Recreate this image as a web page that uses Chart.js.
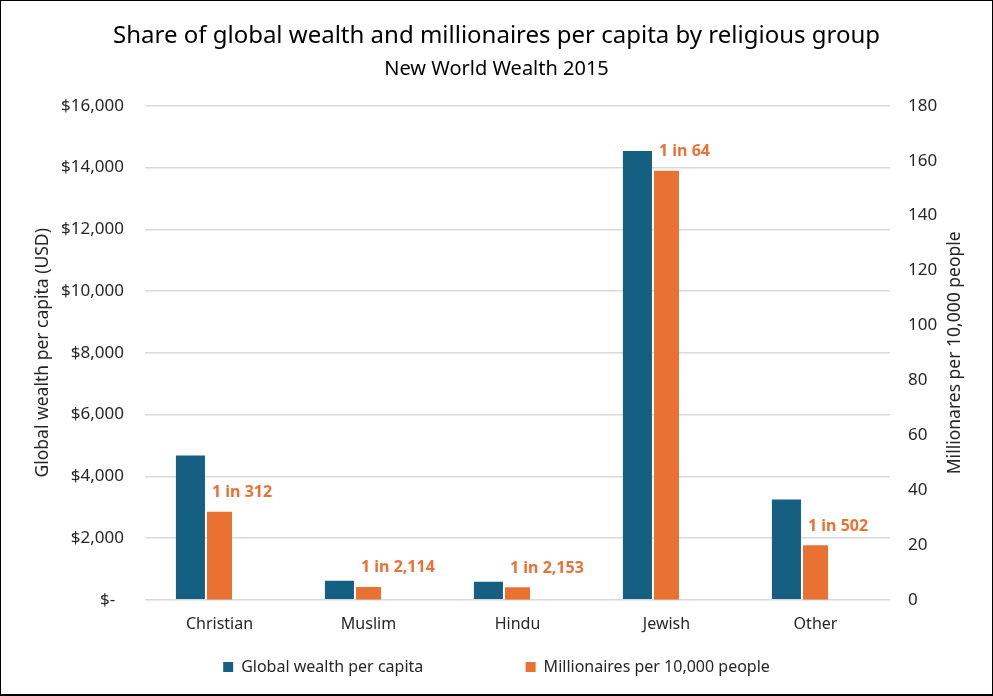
<!DOCTYPE html>
<html lang="en">
<head>
    <meta charset="UTF-8">
    <title>Wealth by religious group</title>
    <script src="https://cdn.jsdelivr.net/npm/chart.js"></script>
    <style>
        html, body { margin: 0; padding: 0; background: #fff; }
        #wrap {
            width: 993px; height: 696px; box-sizing: border-box;
            border: 1px solid #000; border-bottom-width: 2px;
        }
        #chart { display: block; }
    </style>
</head>
<body>
    <div id="wrap"><canvas id="chart" width="991" height="693"></canvas></div>

    <script>
        // Data
        const groups = ['Christian', 'Muslim', 'Hindu', 'Jewish', 'Other'];
        const wealthPerCapita = [4670, 615, 585, 14540, 3245];
        const millionairesPer10k = [32.1, 4.7, 4.6, 156.3, 19.9];
        const ratioLabels = ['1 in 312', '1 in 2,114', '1 in 2,153', '1 in 64', '1 in 502'];

        const FONT = "'Noto Sans', sans-serif";
        const BLUE = '#156082';
        const ORANGE = '#E97132';
        const TEXT = '#262626';

        // "1 in N" labels sit above the orange bars, a bit to the right
        const ratioLabelPlugin = {
            id: 'ratioLabels',
            afterDatasetsDraw(chart) {
                const ctx = chart.ctx;
                const meta = chart.getDatasetMeta(1);
                ctx.save();
                ctx.font = 'bold 16px ' + FONT;
                ctx.fillStyle = ORANGE;
                ctx.textAlign = 'left';
                ctx.textBaseline = 'middle';
                meta.data.forEach((bar, i) => {
                    ctx.fillText(ratioLabels[i], bar.x - bar.width / 2 + 5, bar.y - 19);
                });
                ctx.restore();
            }
        };

        // right axis title reads bottom-to-top like the left one
        const rightTitlePlugin = {
            id: 'rightTitle',
            afterDraw(chart) {
                const ctx = chart.ctx;
                const area = chart.chartArea;
                ctx.save();
                ctx.translate(954, (area.top + area.bottom) / 2);
                ctx.rotate(-Math.PI / 2);
                ctx.font = '17.5px ' + FONT;
                ctx.fillStyle = TEXT;
                ctx.textAlign = 'center';
                ctx.textBaseline = 'middle';
                ctx.fillText('Millionares per 10,000 people', 0, 0);
                ctx.restore();
            }
        };

        const ctx = document.getElementById('chart').getContext('2d');
        new Chart(ctx, {
            type: 'bar',
            data: {
                labels: groups,
                datasets: [{
                    label: 'Global wealth per capita',
                    data: wealthPerCapita,
                    backgroundColor: BLUE,
                    yAxisID: 'y',
                    barPercentage: 1.0,
                    categoryPercentage: 0.585
                }, {
                    label: 'Millionaires per 10,000 people',
                    data: millionairesPer10k,
                    backgroundColor: ORANGE,
                    yAxisID: 'y1',
                    barPercentage: 0.86,
                    categoryPercentage: 0.585
                }, {
                    // empty slot so the orange bar sits on the category centre
                    label: '',
                    data: [],
                    yAxisID: 'y1',
                    barPercentage: 1.0,
                    categoryPercentage: 0.585
                }]
            },
            options: {
                responsive: false,
                animation: false,
                events: [],
                layout: { padding: { left: 0, right: 0, top: 0, bottom: 9 } },
                plugins: {
                    title: {
                        display: true,
                        text: 'Share of global wealth and millionaires per capita by religious group',
                        color: '#000',
                        font: { family: FONT, size: 24, weight: 'normal' },
                        padding: { top: 21, bottom: 0 }
                    },
                    subtitle: {
                        display: true,
                        text: 'New World Wealth 2015',
                        color: '#000',
                        font: { family: FONT, size: 20, weight: 'normal' },
                        padding: { top: 6, bottom: 25 }
                    },
                    legend: {
                        position: 'bottom',
                        labels: {
                            boxWidth: 10,
                            boxHeight: 10,
                            padding: 15,
                            color: TEXT,
                            font: { family: FONT, size: 16 },
                            filter: item => item.text !== '',
                            generateLabels(chart) {
                                const items = Chart.defaults.plugins.legend.labels.generateLabels(chart);
                                items.forEach(it => {
                                    it.lineWidth = 0;
                                    if (it.datasetIndex === 0) it.text = it.text + ' '.repeat(21);
                                });
                                return items;
                            }
                        }
                    },
                    tooltip: { enabled: false }
                },
                scales: {
                    x: {
                        afterFit(scale) { scale.height += 3; },
                        grid: { display: false },
                        border: { display: false },
                        ticks: { color: TEXT, font: { family: FONT, size: 16 }, padding: 7 }
                    },
                    y: {
                        position: 'left',
                        min: 0,
                        max: 16000,
                        afterFit(scale) { scale.width = 144; },
                        ticks: {
                            stepSize: 2000,
                            padding: 21,
                            color: TEXT,
                            font: { family: FONT, size: 17 },
                            callback: v => v === 0 ? '$-  ' : '$' + v.toLocaleString('en-US')
                        },
                        grid: { color: '#d9d9d9', lineWidth: 1.5, drawTicks: false },
                        border: { display: false },
                        title: {
                            display: true,
                            text: 'Global wealth per capita (USD)',
                            color: TEXT,
                            font: { family: FONT, size: 17.5 },
                            padding: { top: 32, bottom: 0 }
                        }
                    },
                    y1: {
                        position: 'right',
                        min: 0,
                        max: 180,
                        afterFit(scale) { scale.width = 102; },
                        ticks: {
                            stepSize: 20,
                            padding: 18,
                            color: TEXT,
                            font: { family: FONT, size: 17 }
                        },
                        grid: { display: false, drawTicks: false },
                        border: { display: false }
                    }
                }
            },
            plugins: [ratioLabelPlugin, rightTitlePlugin]
        });
    </script>
</body>
</html>
